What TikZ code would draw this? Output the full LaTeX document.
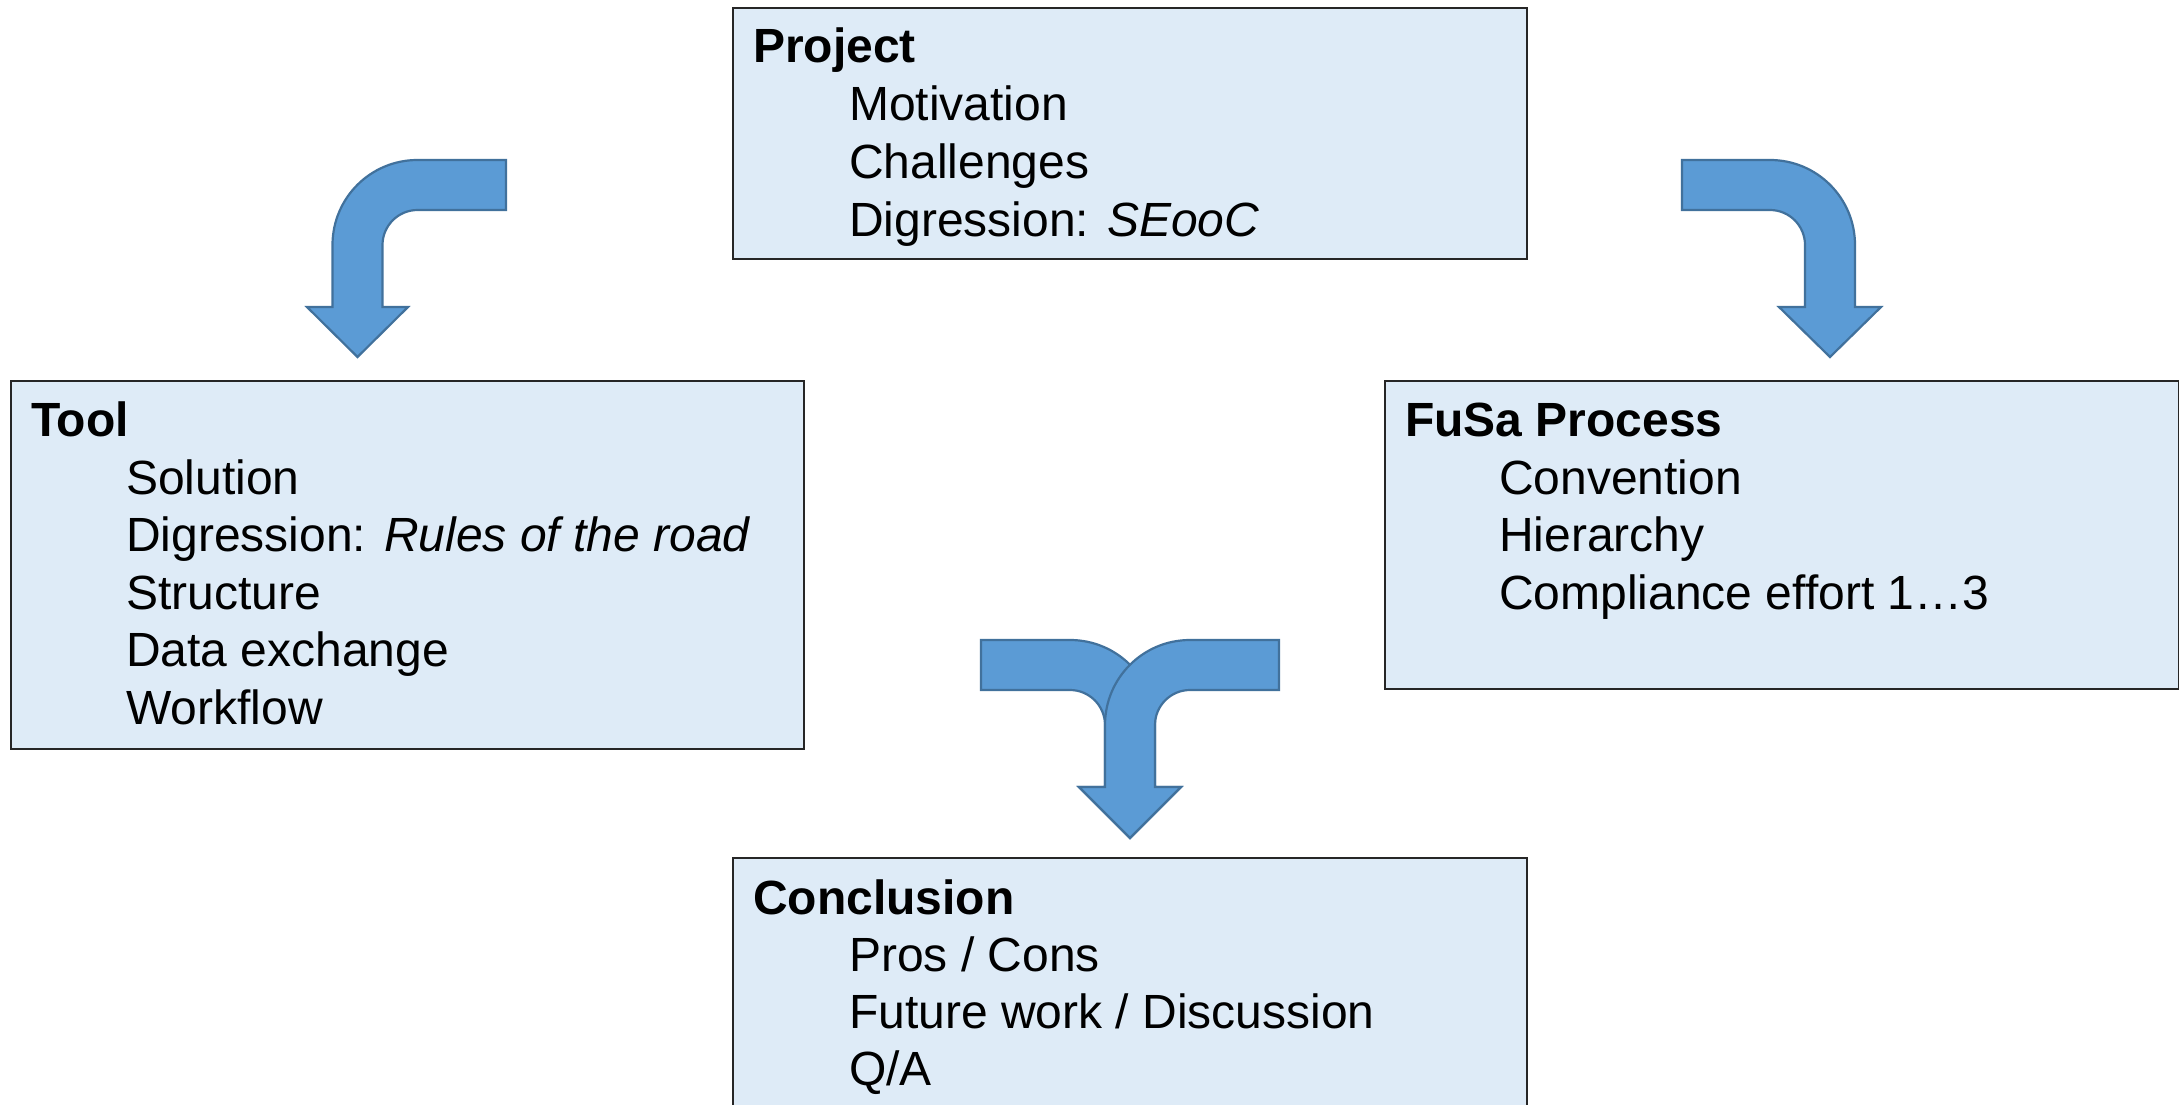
\documentclass[tikz,border=0pt]{standalone}
\usepackage{fontspec}
\setmainfont{Liberation Sans}
\definecolor{boxfill}{RGB}{222,235,247}
\definecolor{arrfill}{RGB}{91,155,213}
\definecolor{arrline}{RGB}{65,113,156}
\begin{document}
\begin{tikzpicture}[x=1pt,y=-1pt,
  panel/.style={draw=black!85, line width=1.6pt, fill=boxfill, rectangle, inner sep=0pt, anchor=north west},
  blockarrow/.style={fill=arrfill, draw=arrline, line width=2.2pt, line join=miter},
  headtxt/.style={anchor=base west, inner sep=0pt, font=\fontsize{48}{56}\selectfont\bfseries},
  itemtxt/.style={anchor=base west, inner sep=0pt, font=\fontsize{48}{56}\selectfont}]
\useasboundingbox (0,0) rectangle (2179,1105);
\clip (0,0) rectangle (2179,1105);
\fill[white] (0,0) rectangle (2179,1105);

% boxes
\node[panel, minimum width=794pt, minimum height=251pt] (project) at (732,7) {};
\node[panel, minimum width=793pt, minimum height=368pt] (tool) at (10,380) {};
\node[panel, minimum width=794pt, minimum height=308pt] (fusa) at (1384,380) {};
\node[panel, minimum width=794pt, minimum height=300pt] (concl) at (732,857) {};

% Project
\node[headtxt] (p0) at (753,63) {Project};
\node[itemtxt] (p1) at (849,121) {Motivation};
\node[itemtxt] (p2) at (849,178.5) {Challenges};
\node[itemtxt] (p3) at (849,236) {Digression: \textit{SEooC}};

% Tool
\node[headtxt] (t0) at (31,436) {Tool};
\node[itemtxt] (t1) at (126,494) {Solution};
\node[itemtxt] (t2) at (126,551.5) {Digression: \textit{Rules of the road}};
\node[itemtxt] (t3) at (126,609) {Structure};
\node[itemtxt] (t4) at (126,666.5) {Data exchange};
\node[itemtxt] (t5) at (126,724) {Workflow};

% FuSa
\node[headtxt] (f0) at (1405,436) {FuSa Process};
\node[itemtxt] (f1) at (1499,494) {Convention};
\node[itemtxt] (f2) at (1499,551.5) {Hierarchy};
\node[itemtxt] (f3) at (1499,609) {Compliance effort 1…3};

% Conclusion
\node[headtxt] (c0) at (753,914) {Conclusion};
\node[itemtxt] (c1) at (849,971) {Pros / Cons};
\node[itemtxt] (c2) at (849,1028) {Future work / Discussion};
\node[itemtxt] (c3) at (849,1085) {Q/A};

% left bent arrow (Project -> Tool)
\draw[blockarrow] (506,160) -- (417.5,160) .. controls (370.5,160) and (332.5,198) .. (332.5,245)
  -- (332.5,307) -- (307,307) -- (357.5,357) -- (408,307) -- (382.5,307) -- (382.5,245)
  .. controls (382.5,225.7) and (398.2,210) .. (417.5,210) -- (506,210) -- cycle;

% right bent arrow (Project -> FuSa)
\draw[blockarrow] (1682,160) -- (1770,160) .. controls (1817,160) and (1855,198) .. (1855,245)
  -- (1855,307) -- (1881,307) -- (1830,357) -- (1779,307) -- (1805,307) -- (1805,245)
  .. controls (1805,225.7) and (1789.3,210) .. (1770,210) -- (1682,210) -- cycle;

% merging arrow (Tool + FuSa -> Conclusion)
\draw[blockarrow] (981,640) -- (1070,640) .. controls (1117,640) and (1155,678) .. (1155,725)
  -- (1155,787) -- (1181,787) -- (1130,838) -- (1079,787) -- (1105,787) -- (1105,725)
  .. controls (1105,705.7) and (1089.3,690) .. (1070,690) -- (981,690) -- cycle;
\draw[blockarrow] (1279,640) -- (1190,640) .. controls (1143,640) and (1105,678) .. (1105,725)
  -- (1105,787) -- (1079,787) -- (1130,838) -- (1181,787) -- (1155,787) -- (1155,725)
  .. controls (1155,705.7) and (1170.7,690) .. (1190,690) -- (1279,690) -- cycle;
\end{tikzpicture}
\end{document}
